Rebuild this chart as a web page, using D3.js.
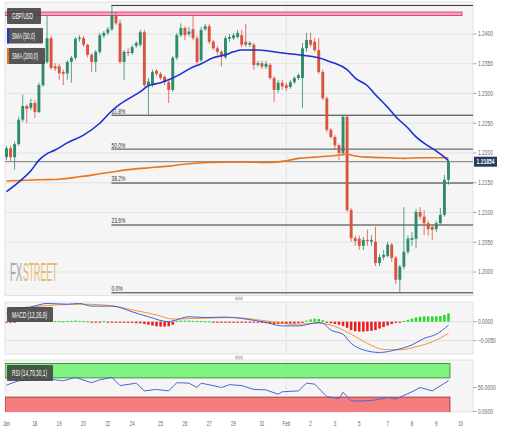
<!DOCTYPE html>
<html><head><meta charset="utf-8">
<script src="https://cdn.jsdelivr.net/npm/d3@7"></script>
<style>html,body{margin:0;padding:0;background:#fff;}svg{display:block;}</style>
</head><body>
<svg id="c" width="505" height="432"></svg>
<script>
// ---------- DATA ----------
const tickLabels = ["Jan","18","19","20","22","24","25","26","27","29","31","Feb","2","3","5","7","8","9","10"];
const tickIdx    = [0,7,13,19,25,31,38,44,50,56,63,69,75,81,87,94,100,106,112];

const open  = [1.2193,1.2208,1.2193,1.2215,1.2256,1.2279,1.2276,1.2284,1.2269,1.2314,1.2353,1.2393,1.2346,1.2346,1.2336,1.2334,1.2353,1.2360,1.2392,1.2393,1.2382,1.2365,1.2353,1.2370,1.2397,1.2402,1.2408,1.2432,1.2418,1.2353,1.2370,1.2368,1.2380,1.2382,1.2403,1.2314,1.2316,1.2338,1.2333,1.2328,1.2319,1.2306,1.2360,1.2398,1.2410,1.2400,1.2408,1.2393,1.2356,1.2408,1.2413,1.2387,1.2376,1.2370,1.2361,1.2392,1.2393,1.2395,1.2398,1.2387,1.2382,1.2382,1.2348,1.2351,1.2345,1.2348,1.2326,1.2306,1.2318,1.2314,1.2311,1.2319,1.2326,1.2326,1.2376,1.2390,1.2387,1.2373,1.2336,1.2292,1.2239,1.2227,1.2213,1.2200,1.2261,1.2104,1.2057,1.2056,1.2044,1.2054,1.2051,1.2051,1.2015,1.2025,1.2027,1.2046,1.2024,1.1987,1.2009,1.2034,1.2054,1.2056,1.2101,1.2093,1.2082,1.2076,1.2072,1.2082,1.2096,1.2155];
const high  = [1.2212,1.2212,1.2219,1.2261,1.2298,1.2282,1.2291,1.2289,1.2318,1.2356,1.2432,1.2397,1.2351,1.2350,1.2340,1.2356,1.2363,1.2395,1.2398,1.2397,1.2383,1.2368,1.2373,1.2402,1.2405,1.2412,1.2448,1.2437,1.2424,1.2373,1.2376,1.2382,1.2388,1.2407,1.2407,1.2326,1.2340,1.2341,1.2336,1.2331,1.2323,1.2363,1.2402,1.2418,1.2413,1.2412,1.2430,1.2397,1.2412,1.2417,1.2417,1.2390,1.2380,1.2373,1.2397,1.2400,1.2402,1.2407,1.2407,1.2417,1.2388,1.2385,1.2355,1.2355,1.2355,1.2351,1.2329,1.2323,1.2323,1.2318,1.2323,1.2329,1.2334,1.2385,1.2402,1.2402,1.2393,1.2393,1.2340,1.2295,1.2242,1.2230,1.2216,1.2264,1.2264,1.2108,1.2061,1.2061,1.2059,1.2071,1.2062,1.2076,1.2030,1.2037,1.2051,1.2049,1.2027,1.2012,1.2109,1.2061,1.2067,1.2106,1.2109,1.2104,1.2086,1.2080,1.2086,1.2108,1.2163,1.2188];
const low   = [1.2188,1.2186,1.2172,1.2212,1.2252,1.2250,1.2272,1.2259,1.2267,1.2311,1.2350,1.2340,1.2338,1.2323,1.2314,1.2323,1.2318,1.2356,1.2387,1.2378,1.2361,1.2336,1.2336,1.2366,1.2393,1.2398,1.2405,1.2415,1.2350,1.2323,1.2363,1.2365,1.2376,1.2378,1.2311,1.2264,1.2311,1.2329,1.2323,1.2314,1.2284,1.2303,1.2356,1.2395,1.2390,1.2396,1.2390,1.2350,1.2353,1.2405,1.2383,1.2373,1.2365,1.2345,1.2358,1.2387,1.2390,1.2392,1.2378,1.2378,1.2378,1.2340,1.2345,1.2341,1.2341,1.2323,1.2286,1.2301,1.2306,1.2304,1.2308,1.2316,1.2323,1.2276,1.2370,1.2378,1.2370,1.2333,1.2289,1.2235,1.2224,1.2205,1.2188,1.2195,1.2101,1.2051,1.2044,1.2037,1.2037,1.2044,1.2044,1.2010,1.2010,1.2020,1.2024,1.2017,1.1980,1.1965,1.2004,1.2030,1.2044,1.2040,1.2088,1.2062,1.2061,1.2054,1.2067,1.2079,1.2093,1.2147];
const close = [1.2208,1.2193,1.2215,1.2256,1.2279,1.2274,1.2284,1.2269,1.2314,1.2353,1.2393,1.2343,1.2342,1.2334,1.2333,1.2353,1.2360,1.2392,1.2394,1.2382,1.2365,1.2353,1.2370,1.2398,1.2402,1.2408,1.2432,1.2418,1.2353,1.2370,1.2368,1.2378,1.2385,1.2403,1.2314,1.2320,1.2336,1.2333,1.2326,1.2319,1.2306,1.2360,1.2398,1.2410,1.2398,1.2404,1.2393,1.2353,1.2407,1.2413,1.2387,1.2376,1.2370,1.2365,1.2393,1.2395,1.2398,1.2402,1.2382,1.2382,1.2385,1.2348,1.2351,1.2345,1.2350,1.2326,1.2306,1.2318,1.2312,1.2309,1.2319,1.2326,1.2331,1.2376,1.2390,1.2382,1.2373,1.2336,1.2292,1.2239,1.2227,1.2213,1.2200,1.2261,1.2104,1.2057,1.2052,1.2044,1.2054,1.2052,1.2054,1.2015,1.2025,1.2029,1.2046,1.2024,1.1987,1.2009,1.2034,1.2056,1.2057,1.2101,1.2093,1.2082,1.2072,1.2071,1.2082,1.2096,1.2155,1.21854];

const sma50Idx = [0,3,6,8,10,12,15,19,23,26,28,33,35,38,40,43,45,48,51,54,56,58,62,68,72,77,80,81,84,86,89,91,94,96,99,101,104,106,108,109];
const sma50    = [1.2135,1.2151,1.2170,1.2188,1.2199,1.2205,1.2217,1.2230,1.2250,1.2271,1.2282,1.2303,1.2313,1.2318,1.2323,1.2333,1.2341,1.2350,1.2360,1.2365,1.2370,1.2373,1.2373,1.2368,1.2365,1.2360,1.2353,1.2351,1.2340,1.2326,1.2313,1.2298,1.2277,1.2261,1.2242,1.2227,1.2212,1.2203,1.2193,1.2187];
const sma200Idx = [0,8,13,18,23,26,30,35,40,45,50,58,65,69,72,76,80,84,86,89,94,98,102,106,109];
const sma200    = [1.2153,1.2155,1.2156,1.2160,1.2165,1.2168,1.2172,1.2175,1.2178,1.2182,1.2184,1.2185,1.2184,1.2187,1.2191,1.2193,1.2195,1.2198,1.2195,1.2193,1.2192,1.2191,1.2192,1.2192,1.2192];

const fibLabels = ["0.0%","23.6%","38.2%","50.0%","61.8%",""];
const fibRatios = [0,0.236,0.382,0.5,0.618,1];
const fibHigh = 1.2448, fibLow = 1.1965, fibStartIdx = 26;
const resistance = 1.2434;
const lastPrice = 1.21854;
const priceTicks = [1.24,1.235,1.23,1.225,1.22,1.215,1.21,1.205,1.20];

const macdIdx = [0,3,6,10,15,18,21,26,31,35,40,41,45,49,54,59,64,68,72,77,78,80,83,85,88,92,96,100,103,106,109];
const macdLine = [0.0022,0.0035,0.0039,0.0048,0.0046,0.0048,0.0041,0.0041,0.0026,0.0013,0.0000,0.0002,0.0013,0.0011,0.0012,0.0007,-0.0002,-0.0011,-0.0011,-0.0002,-0.0004,-0.0022,-0.0033,-0.0057,-0.0074,-0.0081,-0.0074,-0.0061,-0.0044,-0.0033,-0.0009];
const signalIdx = [0,6,12,19,26,31,37,41,48,56,64,71,77,80,85,89,93,97,101,105,109];
const signalLine = [0.0030,0.0038,0.0044,0.0046,0.0042,0.0031,0.0018,0.0007,0.0009,0.0011,0.0002,-0.0007,-0.0004,-0.0009,-0.0033,-0.0057,-0.0073,-0.0074,-0.0066,-0.0053,-0.0031];
const macdHist = [-0.0002,-0.0002,-0.0001,
 0.0003,0.0005,0.0006,0.0006,0.0005,0.0005,0.0006,0.0007,0.0005,
 0.0002,0.0002,0.0001,0.0002,0.0002,0.0003,0.0002,0.0002,0.0001,
 -0.0001,-0.0001,-0.0001,0.0000,-0.0001,-0.0001,-0.0001,-0.0002,
 -0.0002,-0.0003,-0.0003,-0.0004,-0.0004,-0.0006,-0.0008,-0.0010,-0.0012,-0.0013,-0.0013,-0.0012,-0.0008,
 0.0002,0.0003,0.0003,0.0003,0.0002,0.0002,0.0002,0.0001,0.0001,
 -0.0001,-0.0001,-0.0001,-0.0001,-0.0001,-0.0001,-0.0001,-0.0001,-0.0001,-0.0001,-0.0001,
 -0.0002,-0.0003,-0.0004,-0.0005,-0.0006,-0.0006,-0.0006,-0.0006,-0.0005,-0.0005,-0.0004,-0.0002,
 0.0003,0.0006,0.0008,0.0007,0.0004,
 -0.0002,-0.0004,-0.0006,-0.0008,-0.0011,-0.0016,-0.0022,-0.0025,-0.0026,-0.0026,-0.0025,-0.0024,-0.0022,-0.0018,-0.0014,-0.0010,-0.0006,-0.0003,-0.0001,
 0.0002,0.0005,0.0008,0.0011,0.0013,0.0014,0.0014,0.0014,0.0014,0.0015,0.0018,0.0022];
const macdTicks = [0,-0.005];

const rsiIdx = [0,3,7,11,14,17,21,23,26,28,32,34,37,40,42,45,47,48,51,53,55,58,61,64,67,68,72,74,76,79,82,83,85,88,91,94,96,100,102,105,109];
const rsi    = [55,64,66,67,64,71,60,66,71,54,59,43,46,43,60,59,50,59,54,50,56,54,46,45,36,41,43,59,57,31,27,40,22,22,24,29,26,41,50,43,64];
const rsiTicks = [50,0];

// ---------- LAYOUT ----------
const FONT = "'Liberation Sans',Arial,sans-serif";
const L = 5, R = 473;
const main = {top:2, bottom:295.5};
const mp = {top:302, bottom:354};
const rp = {top:360, bottom:412};
const GREEN = "#2e8c6c", RED = "#d9533f";

const svg = d3.select("#c");
const x = d3.scaleLinear().domain([-0.37, 115.05]).range([L, R]);
const y = d3.scaleLinear().domain([1.24, 1.20]).range([34, 272]);
const ym = d3.scaleLinear().domain([0, -0.005]).range([321.7, 340.7]);
const yr = d3.scaleLinear().domain([0, 100]).range([411.5, 363.5]);

// squeeze a text horizontally by factor f (or to width w)
function condense(sel, f, w){
  sel.each(function(){
    const nat = this.getComputedTextLength();
    d3.select(this).attr("textLength", w ? w : nat*f).attr("lengthAdjust","spacingAndGlyphs");
  });
  return sel;
}

const defs = svg.append("defs");
[["cm",main],["cmacd",mp],["crsi",rp]].forEach(([id,p])=>{
  defs.append("clipPath").attr("id",id).append("rect").attr("x",L).attr("y",p.top).attr("width",R-L).attr("height",p.bottom-p.top);
});

// panel backgrounds
[main,mp,rp].forEach(p=>{
  svg.append("rect").attr("x",L).attr("y",p.top).attr("width",R-L).attr("height",p.bottom-p.top)
    .attr("fill","#f5f5f5").attr("stroke","#dcdcdc").attr("stroke-width",0.8);
});

// handles
[298.5, 357.5].forEach(hy=>{
  svg.append("rect").attr("x",235).attr("y",hy-1.8).attr("width",8).attr("height",3.6).attr("fill","#cfcfcf");
});

// gridlines main
svg.append("g").selectAll("line").data(priceTicks).join("line")
  .attr("x1",L).attr("x2",R).attr("y1",d=>y(d)).attr("y2",d=>y(d))
  .attr("stroke","#e3e3e3").attr("stroke-width",1);
// vertical month grid (Feb)
const febI = tickIdx[tickLabels.indexOf("Feb")];
[main,mp,rp].forEach(p=>{
  svg.append("line").attr("x1",x(febI)).attr("x2",x(febI)).attr("y1",p.top).attr("y2",p.bottom)
    .attr("stroke","#e3e3e3").attr("stroke-width",1);
});

// watermark (scaled horizontally via transform)
svg.append("g").attr("transform","translate(10,281) scale(0.37,1)")
  .append("text").attr("font-family",FONT).attr("font-size",26).attr("fill","#a7a7a7").text("FX");
svg.append("g").attr("transform","translate(23,281) scale(0.335,1)")
  .append("text").attr("font-family",FONT).attr("font-size",26).attr("fill","#e8b870").text("STREET");

// main panel content
const gm = svg.append("g").attr("clip-path","url(#cm)");

// resistance band
gm.append("rect").attr("x",L).attr("y",y(resistance)-1.7).attr("width",462-L).attr("height",3.4)
  .attr("fill","#f4a9c4").attr("stroke","#e0407a").attr("stroke-width",1);

// fib lines
const fibRange = fibHigh - fibLow;
fibRatios.forEach((r,k)=>{
  const v = fibLow + r*fibRange;
  gm.append("line").attr("x1",x(fibStartIdx)-0.5).attr("x2",R).attr("y1",y(v)).attr("y2",y(v))
    .attr("stroke", r===0.5 ? "#6a6a6a" : "#333").attr("stroke-width", r===0.5 ? 1.4 : 1);
  if (fibLabels[k]) {
    condense(gm.append("text").attr("x",x(fibStartIdx)-0.5).attr("y",y(v)-1.6)
      .attr("font-family",FONT).attr("font-size",7).attr("fill","#333").text(fibLabels[k]), 0.7);
  }
});

// current price line
gm.append("line").attr("x1",L).attr("x2",R).attr("y1",y(lastPrice)).attr("y2",y(lastPrice))
  .attr("stroke","#7d7d7d").attr("stroke-width",1);

// candles
const idx = d3.range(close.length);
const cg = gm.append("g");
cg.selectAll("line").data(idx).join("line")
  .attr("x1",i=>x(i)).attr("x2",i=>x(i)).attr("y1",i=>y(high[i])).attr("y2",i=>y(low[i]))
  .attr("stroke",i=>close[i]>=open[i]?GREEN:RED).attr("stroke-width",0.8);
cg.selectAll("rect").data(idx).join("rect")
  .attr("x",i=>x(i)-1.45).attr("width",2.9)
  .attr("y",i=>Math.min(y(open[i]),y(close[i])))
  .attr("height",i=>Math.max(1,Math.abs(y(open[i])-y(close[i]))))
  .attr("fill",i=>close[i]>=open[i]?GREEN:RED);

// SMAs
const lineGen = (ys)=>d3.line().x(d=>x(d[0])).y(d=>ys(d[1])).curve(d3.curveMonotoneX);
gm.append("path").attr("d",lineGen(y)(d3.zip(sma200Idx,sma200))).attr("fill","none")
  .attr("stroke","#e8761f").attr("stroke-width",1.6);
gm.append("path").attr("d",lineGen(y)(d3.zip(sma50Idx,sma50))).attr("fill","none")
  .attr("stroke","#1c2fd4").attr("stroke-width",1.6);

// right axis helper
function rightTicks(ticks, sc, fmt){
  ticks.forEach(t=>{
    svg.append("line").attr("x1",R).attr("x2",R+3.5).attr("y1",sc(t)).attr("y2",sc(t)).attr("stroke","#aaa");
    condense(svg.append("text").attr("x",R+5).attr("y",sc(t)+2.4).attr("font-family",FONT).attr("font-size",7)
      .attr("fill","#666").text(fmt(t)), 0.7);
  });
}
rightTicks(priceTicks, y, d3.format(".4f"));

// last price label
svg.append("rect").attr("x",R+1).attr("y",y(lastPrice)-5).attr("width",23).attr("height",10)
  .attr("fill","#243a5e");
condense(svg.append("text").attr("x",R+12.5).attr("y",y(lastPrice)+2.6).attr("text-anchor","middle")
  .attr("font-family",FONT).attr("font-size",7.5).attr("font-weight","bold").attr("fill","#fff")
  .text(d3.format(".5f")(lastPrice)), 0, 18);

// legend boxes
function labelBox(x0,y0,w,h,txt,bar,tw){
  svg.append("rect").attr("x",x0).attr("y",y0).attr("width",w).attr("height",h)
    .attr("fill","#454545").attr("fill-opacity",0.9).attr("rx",1);
  if (bar) svg.append("rect").attr("x",x0).attr("y",y0).attr("width",2).attr("height",h).attr("fill",bar);
  condense(svg.append("text").attr("x",x0+5).attr("y",y0+h/2+3).attr("font-family",FONT).attr("font-size",8.5)
    .attr("fill","#fff").text(txt), 0, tw);
}
labelBox(7,8,34,16,"GBP/USD",null,21);
labelBox(7,28,36,15.5,"SMA (50,0)","#2336c8",23);
labelBox(7,48,38,16,"SMA (200,0)","#e8761f",26);

// MACD panel
const gmc = svg.append("g").attr("clip-path","url(#cmacd)");
macdTicks.forEach(t=>{
  gmc.append("line").attr("x1",L).attr("x2",R).attr("y1",ym(t)).attr("y2",ym(t)).attr("stroke","#e0e0e0");
});
gmc.selectAll("rect.h").data(idx).join("rect").attr("class","h")
  .attr("x",i=>x(i)-1.25).attr("width",2.5)
  .attr("y",i=>macdHist[i]>=0 ? ym(macdHist[i])-(macdHist[i]===0?0.5:0) : ym(0))
  .attr("height",i=>Math.max(1,Math.abs(ym(macdHist[i])-ym(0))))
  .attr("fill",i=>macdHist[i]>=0?"#22dd22":"#ee1b1b");
gmc.append("path").attr("d",lineGen(ym)(d3.zip(signalIdx,signalLine))).attr("fill","none")
  .attr("stroke","#f0943f").attr("stroke-width",1);
gmc.append("path").attr("d",lineGen(ym)(d3.zip(macdIdx,macdLine))).attr("fill","none")
  .attr("stroke","#4162d6").attr("stroke-width",1);
rightTicks(macdTicks, ym, d3.format(".4f"));
labelBox(7,307,46,15,"MACD (12,26,9)",null,35);

// RSI panel
const grs = svg.append("g").attr("clip-path","url(#crsi)");
const zoneEnd = x(close.length-1)+1.5;
grs.append("rect").attr("x",L).attr("y",yr(100)).attr("width",zoneEnd-L).attr("height",yr(70)-yr(100))
  .attr("fill","#7ff27f").attr("stroke","#2e7d32").attr("stroke-width",0.8);
grs.append("rect").attr("x",L).attr("y",yr(30)).attr("width",zoneEnd-L).attr("height",yr(0)-yr(30)+2)
  .attr("fill","#f47c7c").attr("stroke","#8b2a2a").attr("stroke-width",0.8);
grs.append("path").attr("d",d3.line().x(d=>x(d[0])).y(d=>yr(d[1]))(d3.zip(rsiIdx,rsi))).attr("fill","none")
  .attr("stroke","#4a66d0").attr("stroke-width",1);
rightTicks(rsiTicks, yr, d3.format(".4f"));
labelBox(7,365,46,16,"RSI (14,70,30,1)",null,35);

// x axis labels
condense(svg.append("g").selectAll("text").data(tickLabels).join("text")
  .attr("x",(d,k)=>x(tickIdx[k])).attr("y",426).attr("text-anchor","middle")
  .attr("font-family",FONT).attr("font-size",8).attr("fill","#666").text(d=>d), 0.56);
</script>
</body></html>
